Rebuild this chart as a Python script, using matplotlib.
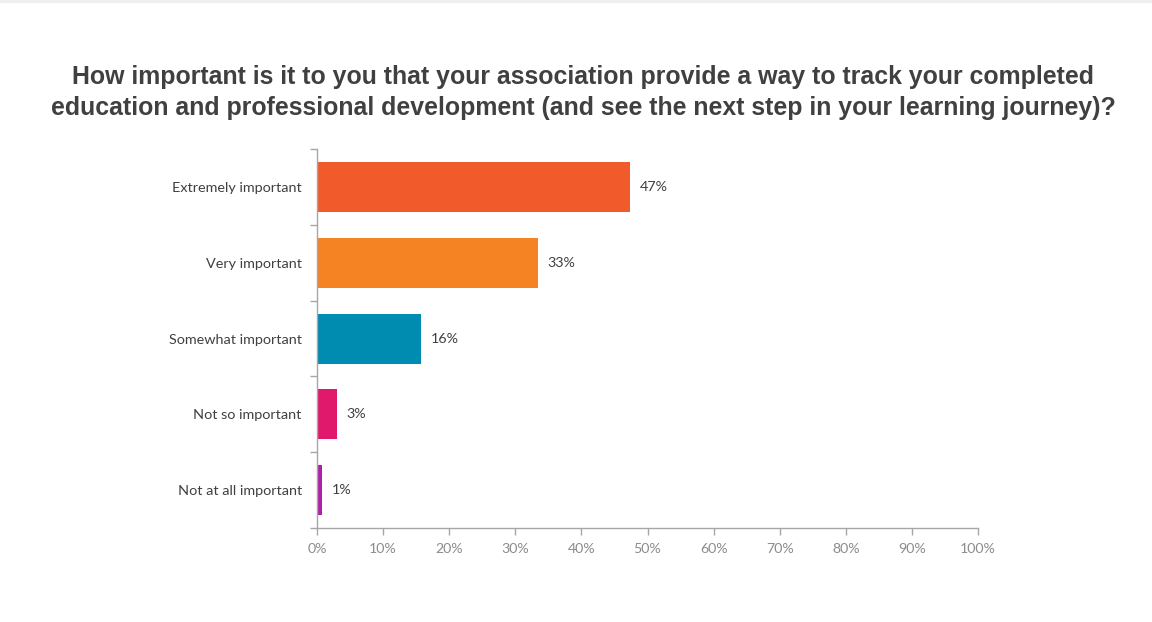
import matplotlib
matplotlib.use('Agg')
import matplotlib.pyplot as plt
from matplotlib.patches import Rectangle

title = ('How important is it to you that your association provide a way to track your completed\n'
         'education and professional development (and see the next step in your learning journey)?')
categories = ['Extremely important', 'Very important', 'Somewhat important',
              'Not so important', 'Not at all important']
values = [47.3, 33.4, 15.7, 3.0, 0.7]
colors = ['#F15A2B', '#F58223', '#008BB0', '#E1196D', '#B01FA8']
xticks = list(range(0, 101, 10))

axis_col = '#A6A6A6'
text_col = '#404040'

fig = plt.figure(figsize=(11.52, 6.22), dpi=100)
fig.patch.set_facecolor('white')
# thin grey strip along the top edge
fig.patches.append(Rectangle((0, 0.996), 1, 0.004, transform=fig.transFigure,
                             color='#EFEFEF', zorder=0))

fig.text(0.506, 0.851, title, ha='center', va='center', fontsize=17.9,
         fontweight='bold', color=text_col, family='Liberation Sans',
         linespacing=1.34)

ax = fig.add_axes([0.2752, 0.1511, 0.5738, 0.6093])
pos = list(range(len(categories)))
ax.barh(pos, values, height=0.66, color=colors, zorder=2)
ax.set_ylim(len(categories) - 0.5, -0.5)
ax.set_xlim(0, 100)

for p, v in zip(pos, values):
    ax.annotate(f'{round(v)}%', (v, p), xytext=(7, 0), textcoords='offset points',
                va='center', ha='left', fontsize=10.3, color=text_col, family='Lato')

ax.set_yticks(pos)
ax.set_yticklabels(categories, fontsize=10.4, color=text_col, family='Lato')
ax.set_yticks([i - 0.5 for i in range(len(categories) + 1)], minor=True)
ax.tick_params(axis='y', which='major', length=0, pad=11)
ax.tick_params(axis='y', which='minor', length=5, color=axis_col, width=1)

ax.set_xticks(xticks)
ax.set_xticklabels([f'{t}%' for t in xticks], fontsize=10.2, color='#8C8C8C', family='Lato')
ax.tick_params(axis='x', length=5, color=axis_col, width=1, pad=6)

for s in ['top', 'right']:
    ax.spines[s].set_visible(False)
for s in ['left', 'bottom']:
    ax.spines[s].set_color(axis_col)
    ax.spines[s].set_linewidth(1)

fig.savefig('out.png', dpi=100)
